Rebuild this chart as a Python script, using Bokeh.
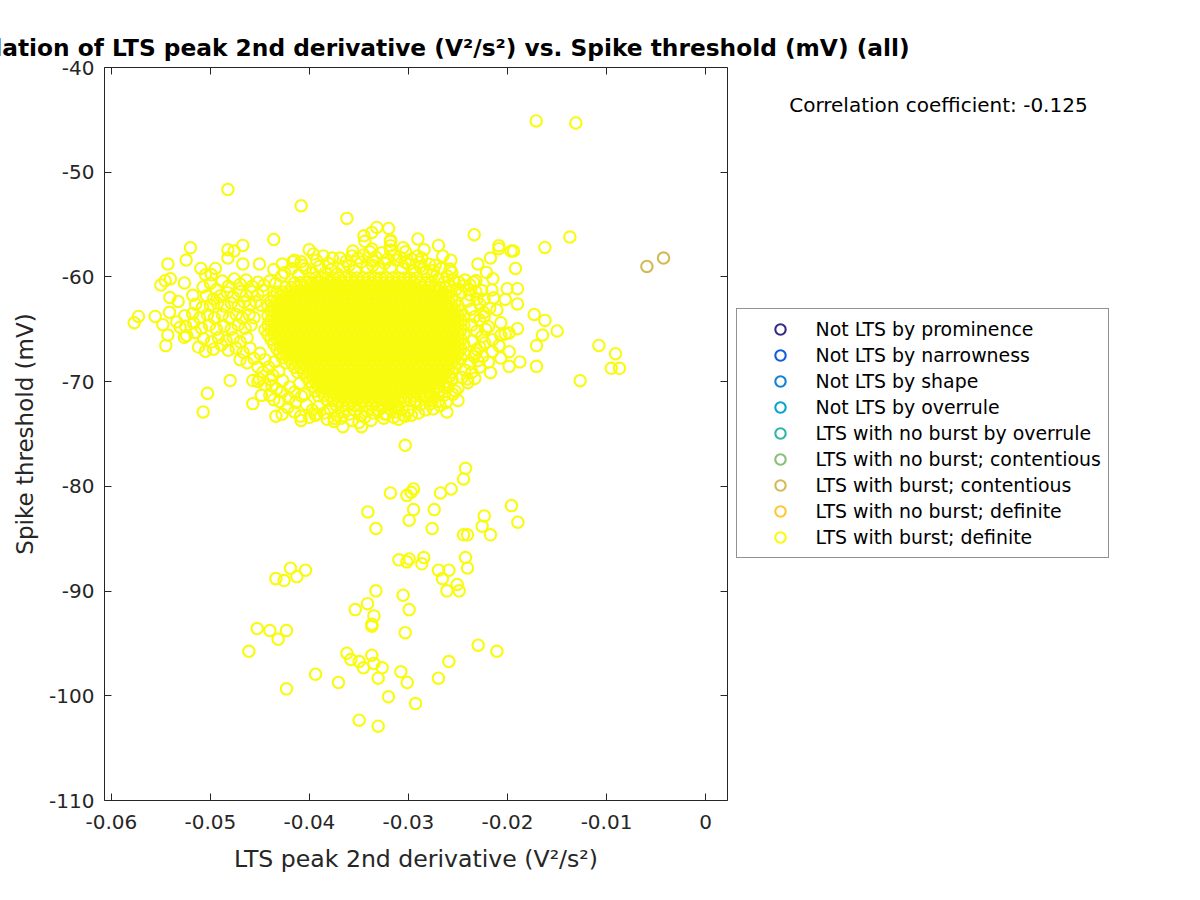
from bokeh.plotting import figure
from bokeh.models import ColumnDataSource, FixedTicker, Legend, LegendItem, Label, LinearAxis, Range1d
from bokeh.embed import file_html
from bokeh.resources import INLINE

class_names = ["Not LTS by prominence", "Not LTS by narrowness", "Not LTS by shape", "Not LTS by overrule",
               "LTS with no burst by overrule", "LTS with no burst; contentious", "LTS with burst; contentious",
               "LTS with no burst; definite", "LTS with burst; definite"]
class_colors = ["#352A87", "#0F5CDD", "#1481D6", "#06A4CA", "#2EB7A4", "#87BF77", "#D1BB59", "#FEC832", "#F9FB0E"]

x_ticks = [-0.06, -0.05, -0.04, -0.03, -0.02, -0.01, 0]
x_tick_labels = ["-0.06", "-0.05", "-0.04", "-0.03", "-0.02", "-0.01", "0"]
y_ticks = [-110, -100, -90, -80, -70, -60, -50, -40]
y_tick_labels = ["-110", "-100", "-90", "-80", "-70", "-60", "-50", "-40"]

burst_contentious = [(-.00592, -59.0), (-.00424, -58.2)]

lower_cluster = [(-.03033,-76.08),(-.02424,-78.28),(-.02444,-79.29),(-.02569,-80.25),(-.02677,-80.63),(-.02949,-80.25),
(-.02973,-80.57),(-.03016,-80.86),(-.03182,-80.63),(-.0196,-81.84),(-.0341,-82.44),(-.02949,-82.22),(-.0274,-82.22),
(-.02235,-82.82),(-.02993,-83.24),(-.01895,-83.43),(-.03329,-84.03),(-.02761,-84.03),(-.02256,-83.81),(-.02172,-84.63),
(-.02444,-84.63),(-.02404,-84.63),(-.03097,-87.02),(-.02993,-86.93),(-.03016,-87.21),(-.02845,-86.80),(-.02865,-87.40),
(-.02424,-86.80),(-.02404,-87.79),(-.02697,-88.01),(-.02592,-88.01),(-.02657,-88.81),(-.02508,-89.38),(-.02488,-89.98),
(-.02612,-89.98),(-.04192,-87.82),(-.0404,-88.01),(-.04127,-88.62),(-.04339,-88.81),(-.04256,-89.0),(-.03329,-89.98),
(-.03054,-90.40),(-.03414,-91.20),(-.03538,-91.77),(-.02993,-91.77),(-.03349,-92.37),(-.0337,-93.17),(-.0337,-93.36),
(-.03033,-93.97),(-.04528,-93.58),(-.044,-93.77),(-.04232,-93.77),(-.04316,-94.6),(-.04612,-95.75),(-.02296,-95.17),
(-.02107,-95.75),(-.03622,-95.94),(-.0337,-96.13),(-.03582,-96.54),(-.03498,-96.73),(-.03349,-96.92),(-.02592,-96.73),
(-.03455,-97.33),(-.03266,-97.33),(-.03077,-97.71),(-.03306,-98.32),(-.03013,-98.73),(-.02697,-98.32),(-.03707,-98.73),
(-.03939,-97.94),(-.04232,-99.34),(-.03202,-100.1),(-.02929,-100.74),(-.03498,-102.33),(-.03306,-102.9)]

top_outliers = [(-.0171,-45.1),(-.0131,-45.3),(-.04824,-51.65),(-.04084,-53.2),(-.03622,-54.41),(-.0436,-56.42),
(-.05202,-57.21),(-.04673,-56.99),(-.04824,-57.4),(-.04761,-57.53),(-.04003,-57.4),(-.0396,-57.81),(-.03562,-57.53),
(-.05245,-58.39),(-.04824,-58.2),(-.0543,-58.77),(-.04673,-58.77),(-.03768,-58.2),(-.04505,-58.77),(-.04275,-58.77),
(-.04168,-58.55),(-.04084,-58.55),(-.05097,-59.19),(-.0495,-59.19),(-.0505,-59.8),(-.0499,-59.8),
(-.0332,-55.27),(-.0337,-55.75),(-.0320,-55.37),(-.0345,-56.07),(-.0344,-56.6),(-.0337,-57.34),(-.0318,-56.5),
(-.03182,-56.6),(-.03182,-57.02),(-.03182,-57.43),(-.0336,-58.9),(-.02336,-55.97),(-.0137,-56.19),(-.01622,-57.18),
(-.02905,-56.38),(-.02697,-56.99),(-.03054,-57.21),(-.02842,-57.4),(-.02653,-58.0),(-.02572,-58.4),(-.03033,-58.6),
(-.02865,-58.2),(-.02889,-58.6),(-.02579,-59.24),(-.02748,-59.4),(-.02562,-59.57)]

right_scatter = [(-.02087,-57.02),(-.02087,-57.3),(-.01939,-57.53),(-.01963,-57.53),(-.02172,-58.2),(-.02299,-58.77),
(-.01919,-59.19),(-.02212,-59.57),(-.02147,-60.17),(-.0232,-60.36),(-.02377,-60.77),(-.02157,-61.25),(-.02003,-61.12),
(-.01899,-61.12),(-.02023,-62.15),(-.01899,-62.58),(-.02235,-62.15),(-.02107,-63.16),(-.0173,-63.58),(-.01622,-64.15),
(-.01498,-65.16),(-.01646,-65.55),(-.01707,-66.56),(-.01077,-66.54),(-.00909,-67.33),(-.00952,-68.73),(-.00869,-68.73),
(-.01707,-68.54),(-.01266,-69.91),(-.01899,-64.94),(-.02067,-64.37),(-.02235,-63.77),(-.02192,-64.75),(-.01983,-65.36),
(-.02023,-65.45),(-.02067,-65.58),(-.02087,-66.56),(-.01983,-67.14),(-.02152,-67.14),(-.02067,-67.74),(-.01875,-68.12),
(-.01983,-68.54),(-.02192,-68.12),(-.02172,-69.14),(-.02612,-72.9),(-.02404,-69.74),(-.02528,-70.9),(-.02697,-71.9),
(-.02781,-72.14),(-.03033,-73.3),(-.03225,-73.12),(-.03117,-72.51),(-.02343,-60.5),(-.02444,-60.84),(-.02309,-62.1),
(-.0240,-62.3),(-.0237,-63.1),(-.0233,-63.8),(-.0236,-64.6),(-.0231,-65.2),(-.0235,-66.1),(-.0231,-66.9),(-.0234,-67.6),
(-.0238,-68.3),(-.0243,-68.9),(-.0230,-68.0)]

left_scatter = [(-.05404,-60.17),(-.05457,-60.36),(-.05501,-60.77),(-.05263,-60.58),(-.05074,-60.96),(-.0541,-61.96),
(-.05178,-61.76),(-.05326,-62.34),(-.05727,-63.77),(-.0577,-64.37),(-.05558,-63.77),(-.05414,-63.38),(-.05481,-64.56),
(-.0543,-65.55),(-.05451,-66.56),(-.05263,-65.77),(-.05306,-64.8),(-.04801,-69.9),(-.0503,-71.12),(-.05074,-72.9),
(-.04572,-69.9),(-.04505,-69.74),(-.04572,-72.1),(-.04485,-71.31),(-.044,-71.31),(-.0436,-71.72),(-.04339,-73.31),
(-.04276,-73.12),(-.04084,-73.7),(-.03663,-74.3),(-.03475,-74.3),(-.03747,-73.51),(-.03222,-73.08),(-.03926,-73.08)]

left_belt = [(-.0500,-60.6),(-.0494,-61.2),(-.0488,-60.4),(-.0482,-60.9),(-.0476,-60.2),(-.0470,-60.7),(-.0464,-60.3),
(-.0458,-60.9),(-.0452,-60.5),(-.0446,-60.8),(-.0440,-60.4),(-.0434,-60.6),(-.0504,-61.8),(-.0497,-62.1),(-.0490,-61.8),
(-.0483,-61.5),(-.0477,-61.9),(-.0470,-61.4),(-.0464,-61.8),(-.0458,-61.4),(-.0452,-61.7),(-.0447,-61.3),(-.0515,-62.6),
(-.0508,-62.9),(-.0500,-62.7),(-.0493,-62.5),(-.0486,-62.8),(-.0479,-62.5),(-.0472,-62.8),(-.0466,-62.4),(-.0460,-62.7),
(-.0454,-62.4),(-.0449,-62.7),(-.0526,-63.7),(-.0518,-63.5),(-.0511,-63.9),(-.0503,-63.6),(-.0496,-63.9),(-.0488,-63.6),
(-.0481,-63.9),(-.0474,-63.6),(-.0468,-63.9),(-.0461,-63.6),(-.0456,-63.9),(-.0534,-64.3),(-.0525,-64.7),(-.0517,-64.4),
(-.0509,-64.9),(-.0501,-64.6),(-.0494,-65.0),(-.0486,-64.7),(-.0479,-65.0),(-.0472,-64.6),(-.0465,-64.9),(-.0459,-64.6),
(-.0524,-65.6),(-.0515,-65.3),(-.0507,-65.9),(-.0499,-66.2),(-.0492,-65.8),(-.0484,-66.1),(-.0477,-65.8),(-.0470,-66.2),
(-.0463,-65.8),(-.0512,-66.7),(-.0505,-67.1),(-.0497,-66.9),(-.0489,-66.5),(-.0482,-67.0),(-.0474,-66.8),(-.0467,-67.2),
(-.0460,-66.8),(-.0470,-67.9),(-.0463,-68.2),(-.0456,-67.8),(-.0452,-68.6),(-.0447,-69.1),(-.0441,-68.6),(-.0437,-69.4),
(-.0431,-69.0),(-.0427,-69.9),(-.0452,-70.0),(-.0445,-70.3),(-.0438,-70.4),(-.0433,-70.7),(-.0428,-71.0)]

bottom_belt = [(-.0421,-71.6),(-.0414,-72.0),(-.0408,-71.4),(-.0403,-72.2),(-.0397,-72.7),(-.0391,-72.4),(-.0385,-73.0),
(-.0379,-72.6),(-.0372,-73.2),(-.0366,-72.8),(-.0360,-73.1),(-.0354,-72.7),(-.0348,-73.2),(-.0342,-72.8),(-.0336,-73.0),
(-.0330,-72.7),(-.0324,-73.1),(-.0318,-72.6),(-.0312,-72.9),(-.0306,-72.5),(-.0300,-72.8),(-.0294,-71.9),(-.0288,-72.2),
(-.0282,-71.5),(-.0276,-71.8),(-.0270,-71.0),(-.0264,-71.3),(-.0260,-70.5),(-.0256,-69.8),
(-.0430,-71.9),(-.0422,-72.5),(-.0415,-72.9),(-.0409,-73.3),(-.0400,-73.4),(-.0394,-73.2),(-.0382,-73.6),(-.0375,-73.8),
(-.0368,-73.5),(-.0357,-73.7),(-.0350,-73.9),(-.0344,-73.4),(-.0338,-73.7),(-.0325,-73.5),(-.0315,-73.4),(-.0310,-73.6),
(-.0305,-73.2),(-.0420,-70.5),(-.0415,-71.0),(-.0410,-70.2),(-.0405,-71.2),(-.0440,-69.8),(-.0435,-68.1),(-.0445,-67.9),(-.0450,-67.3)]

top_belt = [(-.0425,-59.6),(-.0418,-59.2),(-.0411,-59.8),(-.0404,-59.2),(-.0397,-59.6),(-.0390,-59.0),(-.0384,-59.6),
(-.0378,-59.3),(-.0372,-59.7),(-.0366,-59.0),(-.0360,-58.9),(-.0354,-59.4),(-.0348,-58.6),(-.0342,-59.1),(-.0336,-58.5),
(-.0330,-59.2),(-.0324,-58.7),(-.0318,-59.1),(-.0312,-58.4),(-.0306,-59.2),(-.0300,-58.8),(-.0294,-59.4),(-.0288,-59.0),
(-.0282,-59.5),(-.0276,-59.8),(-.0270,-60.2),(-.0264,-60.5),(-.0258,-60.9),(-.0252,-61.2),(-.0246,-61.5),
(-.0436,-59.3),(-.0428,-59.9),(-.0415,-58.4),(-.0407,-58.9),(-.0393,-58.4),(-.0386,-58.0),(-.0381,-58.7),(-.0369,-58.2),
(-.0363,-58.5),(-.0357,-58.0),(-.0351,-58.2),(-.0345,-57.9),(-.0339,-57.6),(-.0333,-58.1),(-.0327,-57.7),(-.0321,-58.3),
(-.0315,-57.9),(-.0309,-58.1),(-.0303,-57.6),(-.0297,-58.3),(-.0291,-58.0),(-.0285,-59.2),(-.0279,-58.8),(-.0273,-58.9),
(-.0267,-59.2),(-.0261,-59.9),(-.0255,-60.3),(-.0249,-60.5),(-.0243,-60.3),(-.0239,-61.2)]

right_fringe = [(-.0238,-61.7),(-.0232,-61.4),(-.0228,-62.6),(-.0226,-61.3),(-.0224,-63.4),(-.0228,-64.1),(-.0222,-65.0),
(-.0226,-65.7),(-.0223,-66.3),(-.0228,-66.7),(-.0225,-67.6),(-.0232,-67.3),(-.0228,-68.6),(-.0236,-69.1),(-.0233,-69.7),
(-.0240,-70.1),(-.0246,-69.6),(-.0250,-70.6),(-.0255,-71.2),(-.0250,-71.8),(-.0262,-72.0),(-.0268,-72.3),(-.0275,-72.6),
(-.0283,-72.7),(-.0290,-73.0),(-.0297,-73.2),(-.0215,-66.0),(-.0218,-63.0),(-.0214,-62.0)]

# dense core: threshold value of each band, and the derivative values (in 1e-4 V^2/s^2) seen in that band
core_bands = [
(-60.1,[-400,-394,-388,-382,-376,-370,-364,-358,-352,-346,-340,-334,-328,-322,-316,-310,-304,-298,-292]),
(-60.55,[-415,-409,-403,-397,-391,-385,-379,-373,-367,-361,-355,-349,-343,-337,-331,-325,-319,-313,-307,-301,-295,-289,-283,-277]),
(-61.0,[-424,-418,-412,-406,-400,-394,-388,-382,-376,-370,-364,-358,-352,-346,-340,-334,-328,-322,-316,-310,-304,-298,-292,-286,-280,-274,-268,-262]),
(-61.45,[-433,-427,-421,-415,-409,-403,-397,-391,-385,-379,-373,-367,-361,-355,-349,-343,-337,-331,-325,-319,-313,-307,-301,-295,-289,-283,-277,-271,-265,-259]),
(-61.9,[-436,-430,-424,-418,-412,-406,-400,-394,-388,-382,-376,-370,-364,-358,-352,-346,-340,-334,-328,-322,-316,-310,-304,-298,-292,-286,-280,-274,-268,-262,-256]),
(-62.35,[-439,-433,-427,-421,-415,-409,-403,-397,-391,-385,-379,-373,-367,-361,-355,-349,-343,-337,-331,-325,-319,-313,-307,-301,-295,-289,-283,-277,-271,-265,-259,-253]),
(-62.8,[-442,-436,-430,-424,-418,-412,-406,-400,-394,-388,-382,-376,-370,-364,-358,-352,-346,-340,-334,-328,-322,-316,-310,-304,-298,-292,-286,-280,-274,-268,-262,-256,-250]),
(-63.25,[-439,-433,-427,-421,-415,-409,-403,-397,-391,-385,-379,-373,-367,-361,-355,-349,-343,-337,-331,-325,-319,-313,-307,-301,-295,-289,-283,-277,-271,-265,-259,-253,-247]),
(-63.7,[-442,-436,-430,-424,-418,-412,-406,-400,-394,-388,-382,-376,-370,-364,-358,-352,-346,-340,-334,-328,-322,-316,-310,-304,-298,-292,-286,-280,-274,-268,-262,-256,-250,-244]),
(-64.15,[-439,-433,-427,-421,-415,-409,-403,-397,-391,-385,-379,-373,-367,-361,-355,-349,-343,-337,-331,-325,-319,-313,-307,-301,-295,-289,-283,-277,-271,-265,-259,-253,-247]),
(-64.6,[-442,-436,-430,-424,-418,-412,-406,-400,-394,-388,-382,-376,-370,-364,-358,-352,-346,-340,-334,-328,-322,-316,-310,-304,-298,-292,-286,-280,-274,-268,-262,-256,-250,-244]),
(-65.05,[-445,-439,-433,-427,-421,-415,-409,-403,-397,-391,-385,-379,-373,-367,-361,-355,-349,-343,-337,-331,-325,-319,-313,-307,-301,-295,-289,-283,-277,-271,-265,-259,-253,-247]),
(-65.5,[-442,-436,-430,-424,-418,-412,-406,-400,-394,-388,-382,-376,-370,-364,-358,-352,-346,-340,-334,-328,-322,-316,-310,-304,-298,-292,-286,-280,-274,-268,-262,-256,-250,-244]),
(-65.95,[-439,-433,-427,-421,-415,-409,-403,-397,-391,-385,-379,-373,-367,-361,-355,-349,-343,-337,-331,-325,-319,-313,-307,-301,-295,-289,-283,-277,-271,-265,-259,-253,-247]),
(-66.4,[-436,-430,-424,-418,-412,-406,-400,-394,-388,-382,-376,-370,-364,-358,-352,-346,-340,-334,-328,-322,-316,-310,-304,-298,-292,-286,-280,-274,-268,-262,-256,-250,-244]),
(-66.85,[-433,-427,-421,-415,-409,-403,-397,-391,-385,-379,-373,-367,-361,-355,-349,-343,-337,-331,-325,-319,-313,-307,-301,-295,-289,-283,-277,-271,-265,-259,-253,-247]),
(-67.3,[-430,-424,-418,-412,-406,-400,-394,-388,-382,-376,-370,-364,-358,-352,-346,-340,-334,-328,-322,-316,-310,-304,-298,-292,-286,-280,-274,-268,-262,-256,-250,-244]),
(-67.75,[-427,-421,-415,-409,-403,-397,-391,-385,-379,-373,-367,-361,-355,-349,-343,-337,-331,-325,-319,-313,-307,-301,-295,-289,-283,-277,-271,-265,-259,-253,-247]),
(-68.2,[-424,-418,-412,-406,-400,-394,-388,-382,-376,-370,-364,-358,-352,-346,-340,-334,-328,-322,-316,-310,-304,-298,-292,-286,-280,-274,-268,-262,-256,-250]),
(-68.65,[-415,-409,-403,-397,-391,-385,-379,-373,-367,-361,-355,-349,-343,-337,-331,-325,-319,-313,-307,-301,-295,-289,-283,-277,-271,-265,-259,-253]),
(-69.1,[-412,-406,-400,-394,-388,-382,-376,-370,-364,-358,-352,-346,-340,-334,-328,-322,-316,-310,-304,-298,-292,-286,-280,-274,-268,-262,-256]),
(-69.55,[-403,-397,-391,-385,-379,-373,-367,-361,-355,-349,-343,-337,-331,-325,-319,-313,-307,-301,-295,-289,-283,-277,-271,-265,-259]),
(-70.0,[-400,-394,-388,-382,-376,-370,-364,-358,-352,-346,-340,-334,-328,-322,-316,-310,-304,-298,-292,-286,-280,-274,-268,-262]),
(-70.45,[-397,-391,-385,-379,-373,-367,-361,-355,-349,-343,-337,-331,-325,-319,-313,-307,-301,-295,-289,-283,-277,-271,-265]),
(-70.9,[-394,-388,-382,-376,-370,-364,-358,-352,-346,-340,-334,-328,-322,-316,-310,-304,-298,-292,-286,-280,-274,-268]),
(-71.35,[-391,-385,-379,-373,-367,-361,-355,-349,-343,-337,-331,-325,-319,-313,-307,-301,-295,-289,-283,-277]),
(-71.8,[-382,-376,-370,-364,-358,-352,-346,-340,-334,-328,-322,-316,-310,-304,-298,-292]),
(-72.25,[-373,-367,-361,-355,-349,-343,-337,-331,-325,-319,-313]),
]

burst_definite = lower_cluster + top_outliers + right_scatter + left_scatter + left_belt + bottom_belt + top_belt + right_fringe
core_x = [v / 1e4 for _, band in core_bands for v in band]
core_y = [y for y, band in core_bands for _ in band]
definite_x = [a for a, _ in burst_definite] + core_x
definite_y = [b for _, b in burst_definite] + core_y

FONT = "DejaVu Sans"
INK = "#262626"
SIZE = 11.4
WIDTH = 2.1

p = figure(frame_width=623, frame_height=733, output_backend="svg", toolbar_location=None,
           x_range=Range1d(-0.0607, 0.00222), y_range=Range1d(-110, -40),
           title="Correlation of LTS peak 2nd derivative (V²/s²) vs. Spike threshold (mV) (all)",
           x_axis_label="LTS peak 2nd derivative (V²/s²)", y_axis_label="Spike threshold (mV)",
           min_border_left=104, min_border_right=0, min_border_top=67, min_border_bottom=84)
p.xgrid.visible = False
p.ygrid.visible = False
p.outline_line_color = INK
p.outline_line_width = 1
p.title.align = "center"
p.title.text_font = FONT
p.title.text_font_style = "bold"
p.title.text_font_size = "23.3px"
p.title.text_color = "black"
p.title.standoff = 14

def style(ax, ticks, labels, show, tick_standoff, label_standoff, label_size="23px"):
    ax.ticker = FixedTicker(ticks=ticks)
    ax.major_label_overrides = {t: (l if show else "") for t, l in zip(ticks, labels)}
    ax.major_tick_in = 7
    ax.major_tick_out = 0
    ax.minor_tick_in = 0
    ax.minor_tick_out = 0
    ax.axis_line_color = None
    ax.major_tick_line_color = INK
    ax.major_label_text_font = FONT
    ax.major_label_text_font_size = "20px"
    ax.major_label_text_color = INK
    ax.axis_label_text_font = FONT
    ax.axis_label_text_font_size = label_size
    ax.axis_label_text_font_style = "normal"
    ax.axis_label_text_color = INK
    ax.major_label_standoff = tick_standoff
    ax.axis_label_standoff = label_standoff

style(p.xaxis[0], x_ticks, x_tick_labels, True, 14, 13, "23.6px")
style(p.yaxis[0], y_ticks, y_tick_labels, True, 10, 8)
right = LinearAxis()
above = LinearAxis()
style(right, y_ticks, y_tick_labels, False, 0, 0)
style(above, x_ticks, x_tick_labels, False, 0, 0)
p.add_layout(right, "right")
p.add_layout(above, "above")

nan = float("nan")
series = {n: ([nan], [nan]) for n in class_names}
series["LTS with burst; contentious"] = ([a for a, _ in burst_contentious], [b for _, b in burst_contentious])
series["LTS with burst; definite"] = (definite_x, definite_y)

items = []
for name, color in zip(class_names, class_colors):
    xs, ys = series[name]
    r = p.scatter(x="x", y="y", source=ColumnDataSource(dict(x=xs, y=ys)), marker="circle", size=SIZE,
                  fill_color=None, line_color=color, line_width=WIDTH)
    items.append(LegendItem(label=name, renderers=[r]))

legend = Legend(items=items, location=(-134, 242), orientation="vertical", glyph_height=26, glyph_width=72,
                padding=7, spacing=0, margin=0, label_standoff=0, label_text_font=FONT,
                label_text_font_size="18.9px", label_text_color="black", border_line_color=INK,
                border_line_width=1, background_fill_alpha=1, click_policy="none")
p.add_layout(legend, "right")

p.add_layout(Label(x=0.00845, y=-43.56, text="Correlation coefficient: -0.125",
                   text_font=FONT, text_font_size="20px", text_color="black", text_baseline="middle"), "right")

open("out.html", "w").write(file_html(p, INLINE))
